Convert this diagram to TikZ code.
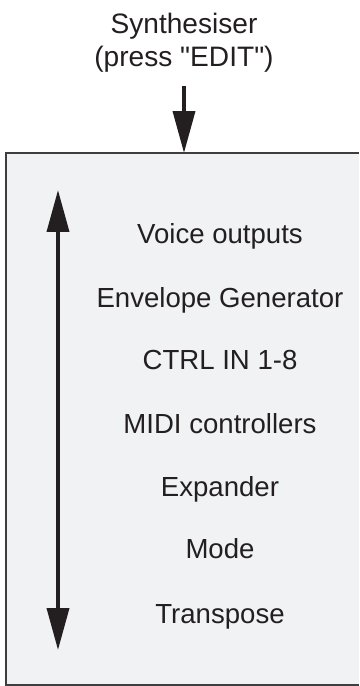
\documentclass[tikz,border=0pt]{standalone}
\usepackage{fontspec}
\setmainfont{Liberation Sans}
\usetikzlibrary{arrows.meta}
\definecolor{panelgray}{RGB}{241,242,244}
\definecolor{edgegray}{RGB}{62,62,64}
\definecolor{inkblack}{RGB}{35,31,32}

\begin{document}
\begin{tikzpicture}[x=0.02cm, y=-0.02cm,
  >={Triangle[length=0.84cm, width=0.44cm]},
  item/.style={anchor=base, inner sep=0pt, text=inkblack, font=\fontsize{15.7}{19}\selectfont},
  shaft/.style={line width=2.1pt, draw=inkblack, fill=inkblack}]
% Fix the page size (one unit = one pixel)
\useasboundingbox (0,0) rectangle (359,686);

% Draw the panel (its right side runs off the page)
\node[fill=panelgray, inner sep=0pt, outer sep=0pt,
  minimum width=7.06cm, minimum height=10.64cm, anchor=north west] (panel) at (6,153) {};
\draw[edgegray, line width=1.3pt] (panel.north east) -- (panel.north west)
  -- (panel.south west) -- (panel.south east);

% Title and the arrow into the panel
\node[anchor=north, inner sep=0pt, align=center, text=inkblack,
  font=\fontsize{16}{18.8}\selectfont] (synth) at (184,13)
  {Synthesiser\\(press \textquotedbl EDIT\textquotedbl)};
\draw[shaft, ->, shorten <=0.26cm] (synth.south) -- (synth.south |- panel.north);

% Insert the menu entries
\node[item] (voice) at (220,243) {Voice outputs};
\node[item] (envgen) at (220,307) {Envelope Generator};
\node[item] (ctrlin) at (220,369) {CTRL IN 1-8};
\node[item] (midictrl) at (220,433) {MIDI controllers};
\node[item] (expander) at (220,496) {Expander};
\node[item] (mode) at (220,558) {Mode};
\node[item] (transpose) at (220,623) {Transpose};

% Scroll arrow on the left
\coordinate (scrolltop) at (58,190);
\coordinate (scrollbot) at (58,650);
\draw[shaft, <->] (scrolltop) -- (scrollbot);
\end{tikzpicture}
\end{document}
